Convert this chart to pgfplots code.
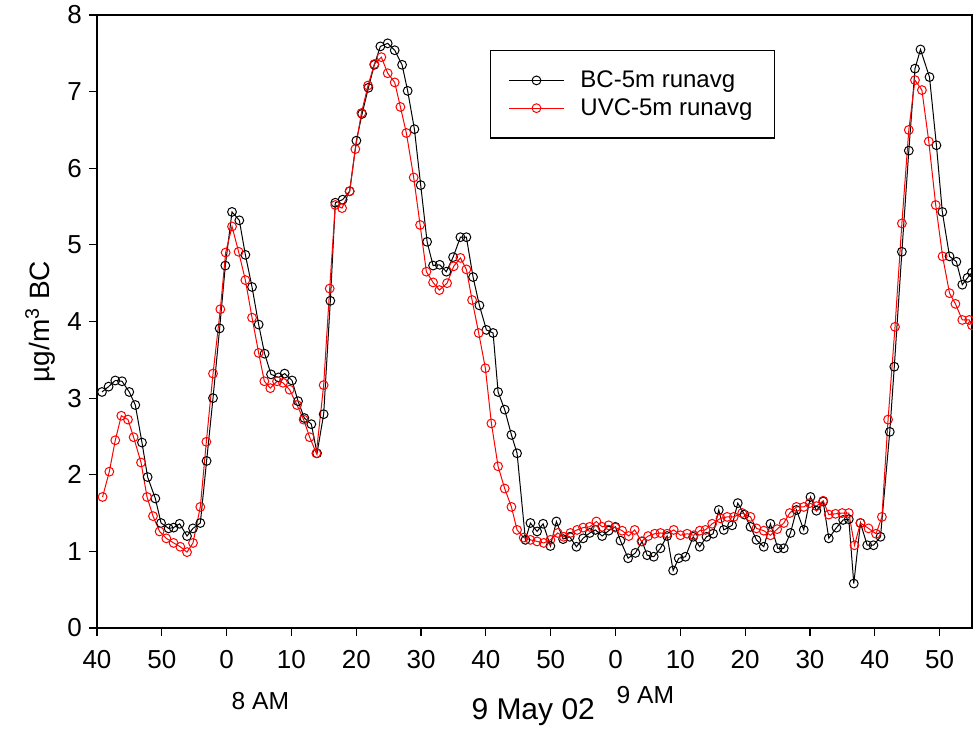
\documentclass[border=0pt]{standalone}
\usepackage{pgfplots}
\pgfplotsset{compat=1.18}
\usepackage{fontspec}
\setmainfont{Liberation Sans}
\definecolor{uvred}{RGB}{255,0,0}
\begin{document}
\begin{tikzpicture}
\begin{axis}[
  scale only axis,
  width=437.5pt, height=306.5pt,
  xmin=0, xmax=135, ymin=0, ymax=8,
  axis line style={line width=0.7pt},
  xtick={0,10,...,130},
  xticklabels={40,50,0,10,20,30,40,50,0,10,20,30,40,50},
  ytick={0,1,...,8},
  tick align=outside,
  tick pos=left,
  major tick length=4pt,
  tick style={line width=0.6pt, black},
  ticklabel style={font=\fontsize{13}{15}\selectfont},
  xticklabel style={yshift=-3.5pt},
  /pgf/number format/assume math mode=true,
  ylabel={µg/m\textsuperscript{3} BC},
  every axis y label/.style={at={(axis description cs:-0.065,0.5)}, rotate=90, anchor=center},
  ylabel style={font=\fontsize{14}{16}\selectfont},
  clip=false,
  legend style={at={(0.449,0.943)}, anchor=north west, draw=black, line width=0.6pt,
    font=\fontsize{12}{13.5}\selectfont, inner xsep=9pt, inner ysep=8pt, row sep=0pt,
    /tikz/every odd column/.append style={column sep=6pt}},
  legend cell align=left,
  legend image code/.code={\draw[mark repeat=2,mark phase=2,#1] plot coordinates {(0pt,0pt)(13.75pt,0pt)(27.5pt,0pt)};},
]
\addplot[black, line width=0.5pt, mark=o, mark size=2.2pt, mark options={line width=0.5pt}] coordinates {
(0.77,3.08)(1.79,3.15)(2.82,3.23)(3.86,3.22)(4.98,3.08)(5.91,2.91)(6.94,2.42)(7.81,1.97)
(9.00,1.69)(9.88,1.37)(11.05,1.30)(11.82,1.31)(12.75,1.36)(13.89,1.20)(14.81,1.30)(15.94,1.37)
(16.91,2.18)(17.90,3.00)(18.92,3.91)(19.80,4.73)(20.83,5.43)(21.96,5.32)(22.89,4.87)(23.92,4.45)
(24.94,3.96)(25.86,3.58)(26.85,3.31)(28.02,3.27)(28.95,3.32)(30.09,3.23)(31.02,2.96)(31.99,2.74)
(33.07,2.66)(33.95,2.28)(34.97,2.79)(36.00,4.27)(36.77,5.55)(37.90,5.59)(38.98,5.70)(40.02,6.36)
(40.90,6.71)(41.87,7.05)(42.79,7.35)(43.72,7.59)(44.85,7.63)(45.93,7.54)(47.07,7.35)(47.93,7.01)
(48.97,6.51)(49.94,5.78)(50.93,5.04)(51.85,4.73)(52.87,4.74)(53.90,4.65)(54.94,4.84)(56.07,5.10)
(56.99,5.10)(58.02,4.58)(59.00,4.21)(60.08,3.89)(61.11,3.85)(61.88,3.08)(62.90,2.85)(63.94,2.52)
(64.81,2.28)(66.10,1.15)(66.87,1.37)(67.90,1.26)(68.83,1.36)(69.95,1.07)(70.88,1.39)(71.91,1.16)
(72.93,1.19)(73.97,1.06)(75.00,1.17)(76.02,1.24)(76.90,1.28)(77.93,1.20)(78.95,1.27)(79.98,1.32)
(80.76,1.14)(81.94,0.91)(83.07,0.98)(84.10,1.13)(84.88,0.95)(85.90,0.93)(86.93,1.04)(87.96,1.20)
(88.89,0.75)(89.75,0.91)(90.79,0.93)(91.98,1.19)(92.99,1.06)(94.03,1.19)(95.06,1.23)(95.93,1.54)
(96.70,1.28)(97.99,1.34)(98.86,1.63)(99.89,1.48)(100.82,1.32)(101.74,1.15)(102.87,1.06)(103.90,1.36)
(105.03,1.04)(105.96,1.04)(106.99,1.24)(107.92,1.54)(109.04,1.28)(110.08,1.71)(111.00,1.53)(112.04,1.65)
(112.90,1.17)(114.09,1.31)(115.12,1.41)(115.99,1.42)(116.76,0.58)(117.79,1.37)(118.83,1.08)(119.80,1.08)
(120.88,1.19)(122.31,2.56)(123.01,3.41)(124.18,4.91)(125.25,6.23)(126.20,7.30)(127.05,7.55)(128.44,7.19)
(129.51,6.30)(130.42,5.43)(131.53,4.85)(132.59,4.78)(133.50,4.48)(134.31,4.57)(135.00,4.64)
};
\addlegendentry{BC-5m runavg}
\addplot[uvred, line width=0.5pt, mark=o, mark size=2.2pt, mark options={line width=0.5pt}] coordinates {
(0.86,1.71)(1.90,2.04)(2.82,2.45)(3.75,2.77)(4.78,2.72)(5.65,2.49)(6.79,2.16)(7.72,1.71)
(8.64,1.46)(9.66,1.26)(10.69,1.17)(11.82,1.11)(12.85,1.06)(13.89,0.99)(14.81,1.11)(15.94,1.58)
(16.87,2.43)(17.90,3.32)(19.03,4.16)(19.85,4.90)(20.83,5.24)(21.85,4.91)(22.89,4.54)(23.92,4.05)
(24.94,3.59)(25.82,3.22)(26.74,3.13)(27.78,3.22)(28.70,3.20)(29.72,3.11)(30.86,2.91)(31.88,2.72)
(32.81,2.49)(33.84,2.28)(34.97,3.17)(35.90,4.43)(36.77,5.52)(37.81,5.48)(38.98,5.70)(39.86,6.25)
(40.79,6.72)(41.82,7.08)(42.79,7.36)(43.87,7.45)(44.85,7.24)(45.93,7.12)(46.81,6.80)(47.73,6.46)
(48.86,5.88)(49.85,5.26)(50.82,4.65)(51.85,4.51)(52.82,4.41)(54.01,4.50)(55.03,4.72)(56.07,4.83)
(56.99,4.68)(57.87,4.28)(58.89,3.85)(59.92,3.39)(60.85,2.67)(61.88,2.11)(62.90,1.82)(63.94,1.58)
(64.81,1.28)(65.83,1.18)(66.87,1.15)(67.90,1.13)(68.92,1.11)(69.95,1.15)(71.08,1.24)(72.01,1.19)
(73.04,1.24)(74.07,1.28)(75.00,1.31)(76.02,1.32)(77.05,1.39)(77.93,1.32)(78.95,1.34)(79.98,1.31)
(81.02,1.27)(82.04,1.20)(82.96,1.28)(84.00,1.13)(85.03,1.20)(86.05,1.23)(86.93,1.24)(87.96,1.23)
(88.98,1.28)(90.02,1.21)(91.05,1.23)(92.07,1.21)(92.99,1.27)(93.87,1.28)(94.91,1.36)(96.19,1.43)
(97.22,1.45)(98.24,1.45)(99.54,1.50)(100.82,1.45)(101.74,1.30)(102.87,1.27)(103.90,1.21)(104.94,1.29)
(105.96,1.37)(106.88,1.50)(107.92,1.58)(109.04,1.58)(109.97,1.63)(111.00,1.59)(112.04,1.66)(112.90,1.48)
(113.94,1.49)(114.97,1.50)(115.99,1.50)(116.87,1.08)(117.79,1.37)(119.03,1.30)(120.19,1.23)(121.10,1.45)
(122.05,2.72)(123.12,3.93)(124.18,5.28)(125.25,6.50)(126.20,7.15)(127.27,7.02)(128.33,6.35)(129.40,5.52)
(130.46,4.85)(131.53,4.37)(132.44,4.23)(133.50,4.02)(134.57,4.02)(135.00,3.95)
};
\addlegendentry{UVC-5m runavg}
\node[font=\fontsize{12.3}{14}\selectfont] at (axis cs:25.2,-0.95) {8 AM};
\node[font=\fontsize{12.3}{14}\selectfont] at (axis cs:84.6,-0.87) {9 AM};
\node[font=\fontsize{15}{17}\selectfont] at (axis cs:67.3,-1.10) {9 May 02};
\end{axis}
\pgfresetboundingbox
\path[use as bounding box] ([xshift=-48.5pt,yshift=-51pt]current axis.south west) rectangle ([xshift=0.5pt,yshift=7.5pt]current axis.north east);
\end{tikzpicture}
\end{document}
